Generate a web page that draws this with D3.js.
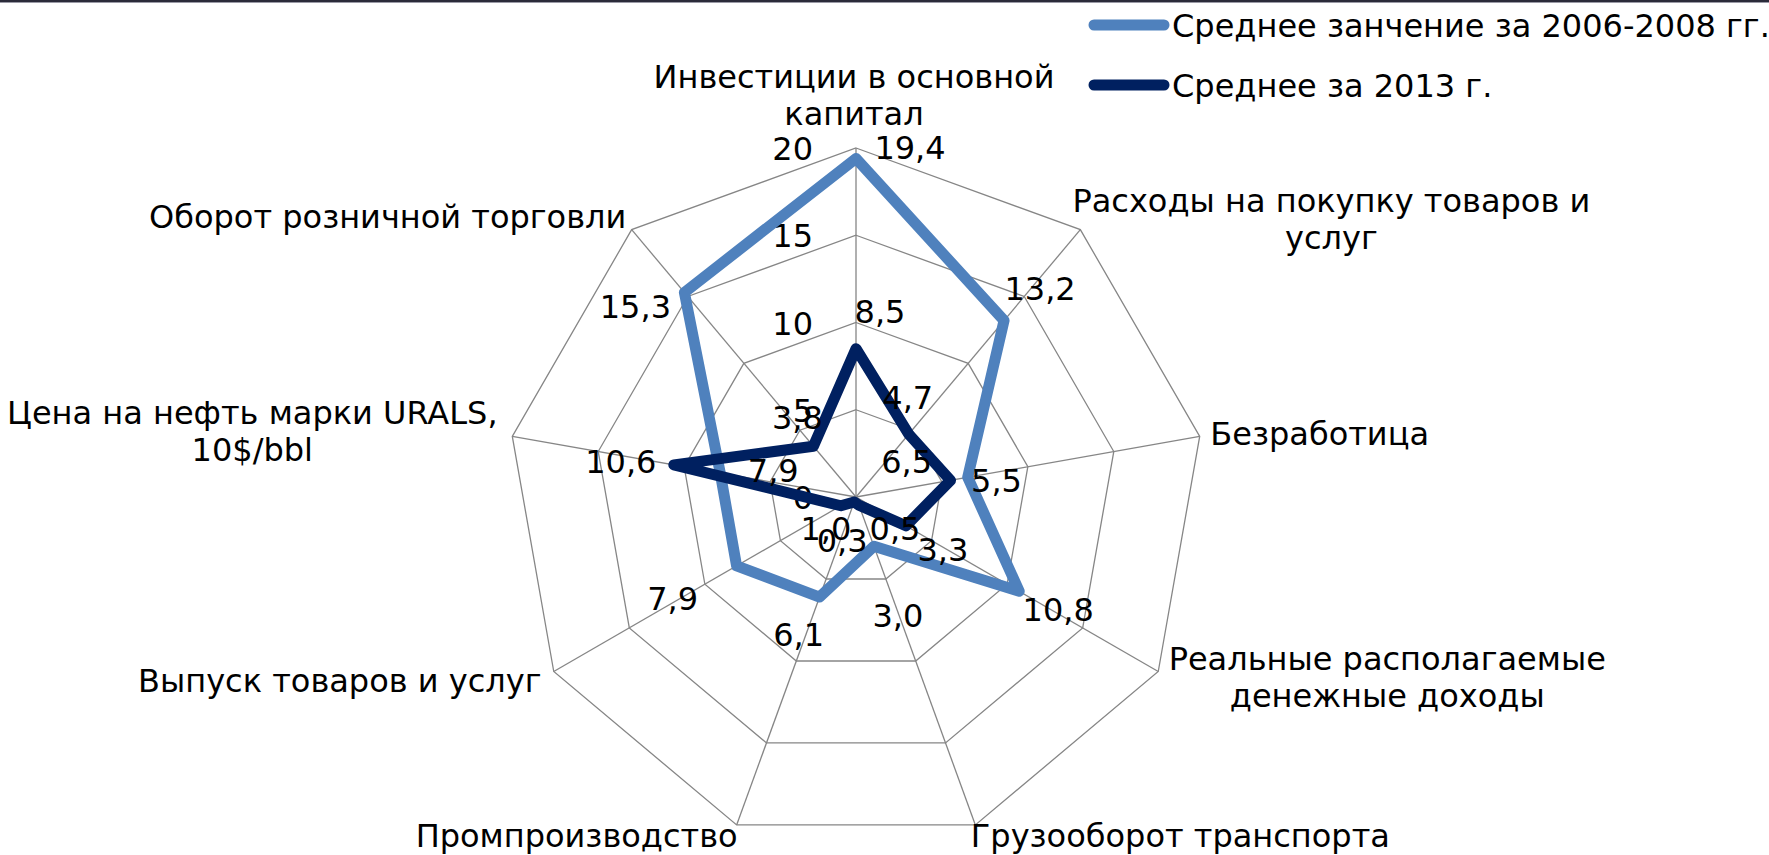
<!DOCTYPE html>
<html>
<head>
<meta charset="utf-8">
<script src="https://cdn.jsdelivr.net/npm/d3@7"></script>
<style>
  html, body { margin: 0; padding: 0; background: #fff; }
  svg text { font-family: "DejaVu Sans", Verdana, sans-serif; fill: #000; }
</style>
</head>
<body>
<svg id="chart" width="1769" height="855"></svg>
<script>
'use strict';

// categories (clockwise from the top)
var categories = [
  ['Инвестиции в основной', 'капитал'],
  ['Расходы на покупку товаров и', 'услуг'],
  ['Безработица'],
  ['Реальные располагаемые', 'денежные доходы'],
  ['Грузооборот транспорта'],
  ['Промпроизводство'],
  ['Выпуск товаров и услуг'],
  ['Цена на нефть марки URALS,', '10$/bbl'],
  ['Оборот розничной торговли']
];

var seriesNames = ['Среднее занчение за 2006-2008 гг.', 'Среднее за 2013 г.'];
var values2006 = [19.4, 13.2, 6.5, 10.8, 3.0, 6.1, 7.9, 7.9, 15.3];
var values2013 = [8.5, 4.7, 5.5, 3.3, 0.5, 0.3, 1.0, 10.6, 3.8];
var ticks = [0, 5, 10, 15, 20];

// layout
var cx = 856, cy = 497, R = 349;
var fontSize = 32;
var colors = ['#4f81bd', '#002060'];

// where each category name sits, relative to the outer vertex [dx, dy of 1st baseline]
var catOffsets = [[-2, -60], [251, -18], [120, 9], [229, -2], [205, 22],
                  [-160, 22], [-214, 20], [-260, -12], [-244, -2]];
// data label centres relative to their point
var labelOffsets2006 = [[54, -11], [36, -33], [-61, -16], [39, 18], [24, 69],
                        [-21, 37], [-64, 32], [53, -3], [-49, 14]];
var labelOffsets2013 = [[24, -38], [-1, -37], [46, 0], [37, 23], [36, 23],
                        [-12, 38], [-15, 22], [-53, -4], [-16, -29]];

var svg = d3.select('#chart');

var r = d3.scaleLinear().domain([0, 20]).range([0, R]);
var angle = d3.scaleLinear().domain([0, categories.length]).range([0, 2 * Math.PI]);

var point = function(i, v) {
  var a = angle(i);
  return [cx + r(v) * Math.sin(a), cy - r(v) * Math.cos(a)];
};

// top frame line
svg.append('rect').attr('x', 0).attr('y', 0).attr('width', 1769).attr('height', 2).attr('fill', '#2b2b3a');
svg.append('rect').attr('x', 0).attr('y', 2).attr('width', 1769).attr('height', 1).attr('fill', '#9a9aa6');

var grid = svg.append('g')
  .attr('fill', 'none')
  .attr('stroke', '#868686')
  .attr('stroke-width', 1.3);

ticks.slice(1).forEach(function(t) {
  grid.append('polygon')
    .attr('points', categories.map(function(c, i) { return point(i, t).join(','); }).join(' '));
});

categories.forEach(function(c, i) {
  var p = point(i, 20);
  grid.append('line')
    .attr('x1', cx).attr('y1', cy)
    .attr('x2', p[0]).attr('y2', p[1]);
});

// tick labels along the top axis
svg.append('g').selectAll('text')
  .data(ticks)
  .enter().append('text')
  .attr('x', cx - 43)
  .attr('y', function(d) { return cy - r(d) + 12; })
  .attr('text-anchor', 'end')
  .style('font-size', fontSize + 'px')
  .text(function(d) { return d; });

// category names
categories.forEach(function(lines, i) {
  var p = point(i, 20);
  var t = svg.append('text')
    .attr('text-anchor', 'middle')
    .style('font-size', fontSize + 'px');
  lines.forEach(function(s, k) {
    t.append('tspan')
      .attr('x', p[0] + catOffsets[i][0])
      .attr('y', p[1] + catOffsets[i][1] + k * 37)
      .text(s);
  });
});

// series
var line = d3.line().curve(d3.curveLinearClosed);
var series = [values2006, values2013];

series.forEach(function(vals, s) {
  svg.append('path')
    .attr('d', line(vals.map(function(v, i) { return point(i, v); })))
    .attr('fill', 'none')
    .attr('stroke', colors[s])
    .attr('stroke-width', 11)
    .attr('stroke-linejoin', 'round');
});

// data labels
var fmt = function(v) { return d3.format('.1f')(v).replace('.', ','); };
[[values2006, labelOffsets2006], [values2013, labelOffsets2013]].forEach(function(pair) {
  pair[0].forEach(function(v, i) {
    var p = point(i, v);
    svg.append('text')
      .attr('x', p[0] + pair[1][i][0])
      .attr('y', p[1] + pair[1][i][1] + 12)
      .attr('text-anchor', 'middle')
      .style('font-size', fontSize + 'px')
      .text(fmt(v));
  });
});

// legend
var legend = svg.append('g');
seriesNames.forEach(function(name, s) {
  var y = 25 + s * 60;
  legend.append('line')
    .attr('x1', 1094).attr('x2', 1164)
    .attr('y1', y).attr('y2', y)
    .attr('stroke', colors[s])
    .attr('stroke-width', 11)
    .attr('stroke-linecap', 'round');
  legend.append('text')
    .attr('x', 1172)
    .attr('y', y + 12)
    .style('font-size', fontSize + 'px')
    .text(name);
});
</script>
</body>
</html>
